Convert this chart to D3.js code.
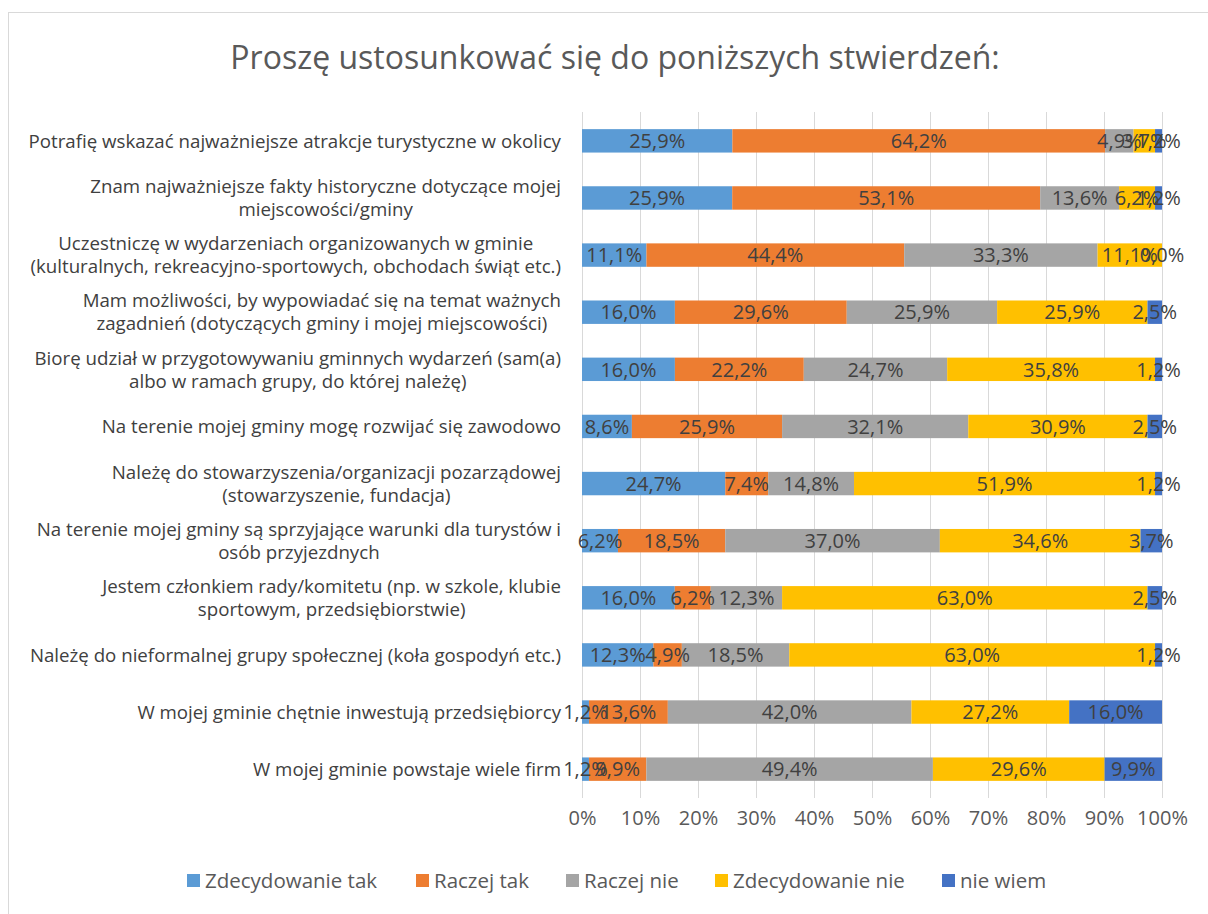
<!DOCTYPE html>
<html>
<head>
<meta charset="utf-8">
<script src="https://cdn.jsdelivr.net/npm/d3@7"></script>
<style>
  body { margin: 0; background: #fff; }
  text { font-family: "Open Sans", sans-serif; }
</style>
</head>
<body>
<div id="chart"></div>
<script>
// categories (top to bottom), "\n" marks a line break
var categories = [
    "Potrafię wskazać najważniejsze atrakcje turystyczne w okolicy",
    "Znam najważniejsze fakty historyczne dotyczące mojej\nmiejscowości/gminy",
    "Uczestniczę w wydarzeniach organizowanych w gminie\n(kulturalnych, rekreacyjno-sportowych, obchodach świąt etc.)",
    "Mam możliwości, by wypowiadać się na temat ważnych\nzagadnień (dotyczących gminy i mojej miejscowości)",
    "Biorę udział w przygotowywaniu gminnych wydarzeń (sam(a)\nalbo w ramach grupy, do której należę)",
    "Na terenie mojej gminy mogę rozwijać się zawodowo",
    "Należę do stowarzyszenia/organizacji pozarządowej\n(stowarzyszenie, fundacja)",
    "Na terenie mojej gminy są sprzyjające warunki dla turystów i\nosób przyjezdnych",
    "Jestem członkiem rady/komitetu (np. w szkole, klubie\nsportowym, przedsiębiorstwie)",
    "Należę do nieformalnej grupy społecznej (koła gospodyń etc.)",
    "W mojej gminie chętnie inwestują przedsiębiorcy",
    "W mojej gminie powstaje wiele firm"
];

var seriesNames = ["Zdecydowanie tak", "Raczej tak", "Raczej nie", "Zdecydowanie nie", "nie wiem"];
var seriesColors = ["#5B9BD5", "#ED7D31", "#A5A5A5", "#FFC000", "#4472C4"];

var zdecydowanieTak  = [25.9, 25.9, 11.1, 16.0, 16.0,  8.6, 24.7,  6.2, 16.0, 12.3,  1.2,  1.2];
var raczejTak        = [64.2, 53.1, 44.4, 29.6, 22.2, 25.9,  7.4, 18.5,  6.2,  4.9, 13.6,  9.9];
var raczejNie        = [ 4.9, 13.6, 33.3, 25.9, 24.7, 32.1, 14.8, 37.0, 12.3, 18.5, 42.0, 49.4];
var zdecydowanieNie  = [ 3.7,  6.2, 11.1, 25.9, 35.8, 30.9, 51.9, 34.6, 63.0, 63.0, 27.2, 29.6];
var nieWiem          = [ 1.2,  1.2,  0.0,  2.5,  1.2,  2.5,  1.2,  3.7,  2.5,  1.2, 16.0,  9.9];

var seriesValues = [zdecydowanieTak, raczejTak, raczejNie, zdecydowanieNie, nieWiem];
var xTicks = [0, 0.1, 0.2, 0.3, 0.4, 0.5, 0.6, 0.7, 0.8, 0.9, 1.0];

var W = 1208, H = 914;
var margin = {top: 112, left: 582, right: 45, bottom: 116};

var svg = d3.select("#chart").append("svg")
    .attr("width", W)
    .attr("height", H);

// outer border
svg.append("rect")
    .attr("x", 8.5).attr("y", 12.5)
    .attr("width", W + 20).attr("height", H + 20)
    .attr("fill", "none")
    .attr("stroke", "#d9d9d9");

// title
svg.append("text")
    .attr("x", 615).attr("y", 69)
    .attr("text-anchor", "middle")
    .attr("fill", "#595959")
    .style("font-size", "32px")
    .text("Proszę ustosunkować się do poniższych stwierdzeń:");

var x = d3.scaleLinear()
    .domain([0, 1])
    .range([margin.left, W - margin.right - 1]);

var y = d3.scaleBand()
    .domain(d3.range(categories.length))
    .range([margin.top, H - margin.bottom])
    .paddingInner(0.59)
    .paddingOuter(0.3);

// gridlines
svg.append("g").selectAll("line")
    .data(xTicks)
    .enter().append("line")
    .attr("x1", function(d) { return Math.round(x(d)) + 0.5; })
    .attr("x2", function(d) { return Math.round(x(d)) + 0.5; })
    .attr("y1", margin.top)
    .attr("y2", H - margin.bottom)
    .attr("stroke", "#d9d9d9")
    .attr("stroke-width", 1);

// x axis labels
var xAxis = d3.axisBottom(x)
    .tickValues(xTicks)
    .tickFormat(d3.format(".0%"))
    .tickSize(0)
    .tickPadding(13);

var gx = svg.append("g")
    .attr("transform", "translate(0," + (H - margin.bottom) + ")")
    .call(xAxis);
gx.select(".domain").remove();
gx.selectAll("text")
    .attr("fill", "#595959")
    .style("font-size", "20px")
    .style("font-family", "'Open Sans', sans-serif");

// build stacked rows
var fmt = d3.format(".1f");
var rows = categories.map(function(c, i) {
    var total = d3.sum(seriesValues, function(s) { return s[i]; });
    var acc = 0;
    return seriesValues.map(function(s, k) {
        var seg = {row: i, k: k, v: s[i], x0: acc / total, x1: (acc + s[i]) / total};
        acc += s[i];
        return seg;
    });
});
var segs = d3.merge(rows);

svg.append("g").selectAll("rect")
    .data(segs)
    .enter().append("rect")
    .attr("x", function(d) { return x(d.x0); })
    .attr("width", function(d) { return x(d.x1) - x(d.x0); })
    .attr("y", function(d) { return y(d.row); })
    .attr("height", y.bandwidth())
    .attr("fill", function(d) { return seriesColors[d.k]; });

// data labels
svg.append("g").selectAll("text")
    .data(segs)
    .enter().append("text")
    .attr("x", function(d) { return (x(d.x0) + x(d.x1)) / 2; })
    .attr("y", function(d) { return y(d.row) + y.bandwidth() / 2; })
    .attr("dy", "0.36em")
    .attr("text-anchor", "middle")
    .attr("fill", "#404040")
    .style("font-size", "20px")
    .text(function(d) { return fmt(d.v).replace(".", ",") + "%"; });

// category labels
var labelRight = 561;
categories.forEach(function(c, i) {
    var lines = c.split("\n");
    var g = svg.append("g");
    var cy = y(i) + y.bandwidth() / 2;
    var texts = lines.map(function(l, j) {
        return g.append("text")
            .attr("y", cy + (j - (lines.length - 1) / 2) * 23)
            .attr("dy", "0.36em")
            .attr("text-anchor", "middle")
            .attr("fill", "#404040")
            .style("font-size", "18.7px")
            .text(l);
    });
    var maxW = d3.max(texts, function(t) { return t.node().getComputedTextLength(); });
    texts.forEach(function(t) { t.attr("x", labelRight - maxW / 2); });
});

// legend
var legendX = [187, 416, 566, 715, 942];
var legend = svg.append("g").selectAll("g")
    .data(seriesNames)
    .enter().append("g")
    .attr("transform", function(d, i) { return "translate(" + legendX[i] + ",881)"; });
legend.append("rect")
    .attr("x", 0).attr("y", -7)
    .attr("width", 13).attr("height", 13)
    .attr("fill", function(d, i) { return seriesColors[i]; });
legend.append("text")
    .attr("x", 18)
    .attr("dy", "0.36em")
    .attr("fill", "#595959")
    .style("font-size", "20.5px")
    .text(function(d) { return d; });
</script>
</body>
</html>
